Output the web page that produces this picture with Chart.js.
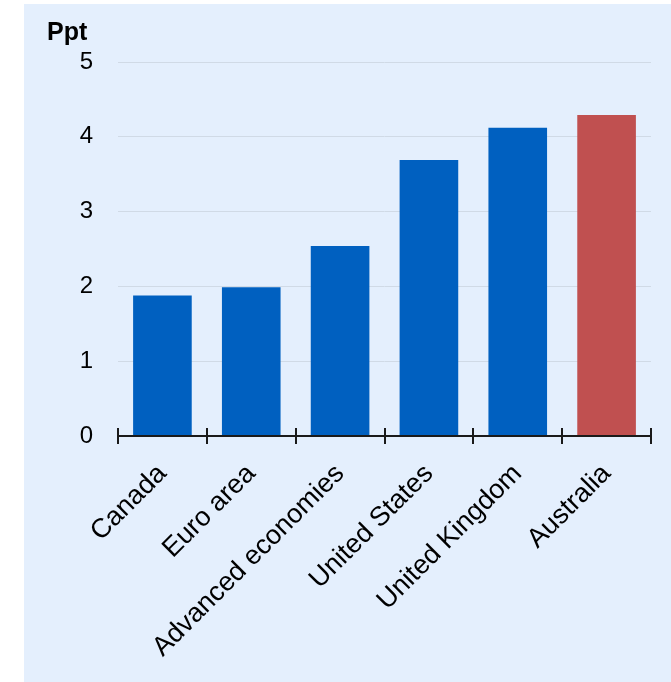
<!DOCTYPE html>
<html>
<head>
<meta charset="utf-8">
<script src="https://cdn.jsdelivr.net/npm/chart.js@4/dist/chart.umd.min.js"></script>
<style>
  html, body { margin: 0; padding: 0; background: #fff; }
  #wrap { width: 671px; height: 682px; position: relative; }
</style>
</head>
<body>
<div id="wrap"><canvas id="maincanvas" width="671" height="682"></canvas></div>
<script>
var categories = ["Canada", "Euro area", "Advanced economies", "United States", "United Kingdom", "Australia"];
var values = [1.88, 1.99, 2.54, 3.69, 4.12, 4.29];
var barColors = ["#0060c0", "#0060c0", "#0060c0", "#0060c0", "#0060c0", "#c05050"];
var yTicks = [0, 1, 2, 3, 4, 5];

var panelPlugin = {
    id: "panel",
    beforeDraw: function(chart){
        var ctx = chart.ctx;
        ctx.save();
        ctx.fillStyle = "#e4effd";
        ctx.fillRect(24, 4, chart.width - 24, chart.height - 4);
        ctx.fillStyle = "#000";
        ctx.font = "bold 25px 'Liberation Sans', Arial, sans-serif";
        ctx.textBaseline = "alphabetic";
        ctx.fillText("Ppt", 47, 40);
        ctx.restore();
    },
    afterDatasetsDraw: function(chart){
        var ctx = chart.ctx;
        var x = chart.scales.x;
        var y0 = chart.scales.y.getPixelForValue(0);
        ctx.save();
        ctx.strokeStyle = "#1a1a1a";
        ctx.lineWidth = 2;
        ctx.beginPath();
        ctx.moveTo(x.left, y0);
        ctx.lineTo(x.right, y0);
        var step = (x.right - x.left) / categories.length;
        for (var i = 0; i <= categories.length; i++) {
            var px = Math.round(x.left + step * i);
            ctx.moveTo(px, y0 - 8);
            ctx.lineTo(px, y0 + 8);
        }
        ctx.stroke();
        ctx.restore();
    }
};

var mainchart = document.getElementById("maincanvas").getContext("2d");
var mainBarChart = new Chart(mainchart, {
    type: "bar",
    data: {
        labels: categories,
        datasets: [{
            label: "Ppt",
            data: values,
            backgroundColor: barColors,
            categoryPercentage: 0.66,
            barPercentage: 1.0
        }]
    },
    options: {
        responsive: false,
        animation: false,
        layout: { padding: { top: 62, right: 20, left: 24, bottom: 0 } },
        plugins: { legend: { display: false }, tooltip: { enabled: false } },
        scales: {
            x: {
                grid: { display: false },
                border: { display: false },
                ticks: {
                    color: "#000",
                    font: { family: "'Liberation Sans', Arial, sans-serif", size: 27 },
                    minRotation: 45,
                    maxRotation: 45,
                    padding: 14
                },
                afterFit: function(scale){ scale.height = 246; }
            },
            y: {
                min: 0,
                max: 5,
                afterBuildTicks: function(scale){
                    scale.ticks = yTicks.map(function(v){ return { value: v }; });
                },
                grid: { color: "#d0dae6", lineWidth: 1, drawTicks: false },
                border: { display: false },
                ticks: {
                    color: "#000",
                    font: { family: "'Liberation Sans', Arial, sans-serif", size: 24 },
                    padding: 25
                },
                afterFit: function(scale){ scale.width = 94; }
            }
        }
    },
    plugins: [panelPlugin]
});
</script>
</body>
</html>
